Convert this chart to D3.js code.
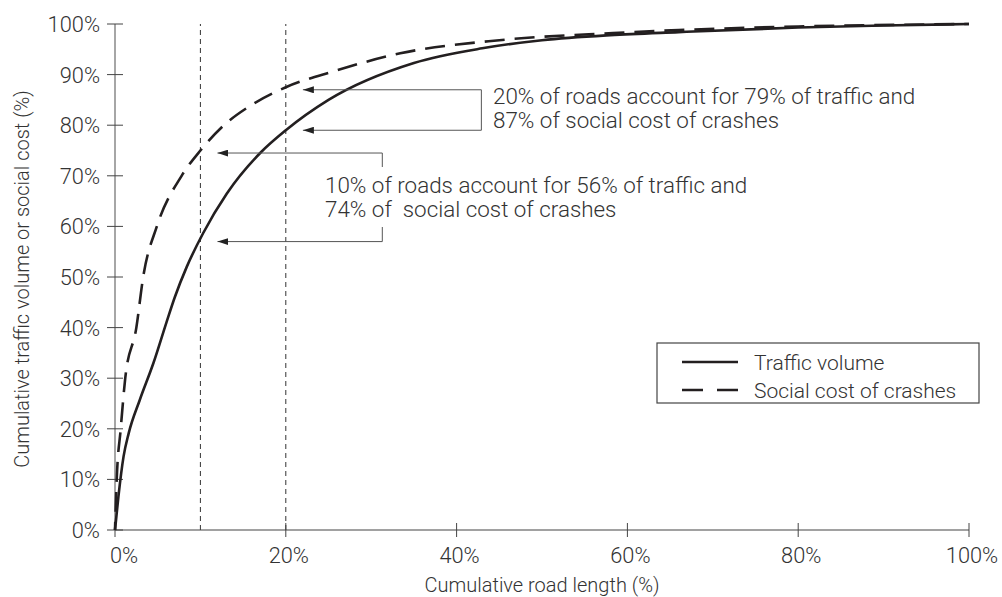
<!DOCTYPE html>
<html><head><meta charset="utf-8">
<script src="https://cdn.jsdelivr.net/npm/d3@7"></script>
<style>
body{margin:0;background:#fff;}
text{font-family:Roboto,"Open Sans",sans-serif;font-weight:300;fill:#333;}
</style></head>
<body><svg id="c" width="1002" height="597"></svg>
<script>
// ---- data ----
const trafficX = [0, 0.4, 1, 1.6, 2.9, 4.5, 6, 7, 8.4, 10.3, 13.1, 17, 20, 25, 35, 43, 50, 58, 66, 80, 90, 100];
const trafficY = [0, 6.6, 14.5, 19.1, 25.7, 33, 40.9, 46, 52, 58.6, 66.5, 74.5, 79, 85, 92.3, 95.2, 96.8, 97.8, 98.4, 99.3, 99.7, 100];
const crashX = [0, 0.2, 0.67, 1.2, 2.5, 3.3, 4.9, 7.8, 10, 12.5, 15.8, 20, 25.5, 33.4, 45, 58.3, 66, 80, 100];
const crashY = [0, 10, 20, 30, 40, 50, 60, 70, 75, 79.6, 83.8, 87.5, 90.6, 94.2, 96.8, 98.2, 98.8, 99.5, 100];
const xTicks = [0, 20, 40, 60, 80, 100];
const yTicks = [0, 10, 20, 30, 40, 50, 60, 70, 80, 90, 100];
const refLines = [10, 20];
const seriesNames = ["Traffic volume", "Social cost of crashes"];
const ann1Lines = ["20% of roads account for 79% of traffic and", "87% of social cost of crashes"];
const ann2Lines = ["10% of roads account for 56% of traffic and", "74% of  social cost of crashes"];

const svg = d3.select("#c");
const x = d3.scaleLinear().domain([0, 100]).range([115, 969]);
const y = d3.scaleLinear().domain([0, 100]).range([530, 24]);
const ink = "#231f20";

// reference dashed verticals
svg.selectAll(".ref").data(refLines).join("line")
  .attr("x1", d => x(d)).attr("x2", d => x(d))
  .attr("y1", y(0)).attr("y2", y(100))
  .attr("stroke", "#333").attr("stroke-width", 1).attr("stroke-dasharray", "5,4");

// axes
const yAxis = svg.append("g");
yAxis.append("line").attr("x1", x(0)).attr("x2", x(0)).attr("y1", y(0)).attr("y2", y(100))
  .attr("stroke", "#888").attr("stroke-width", 1.5);
yAxis.selectAll(".yt").data(yTicks).join("line")
  .attr("x1", x(0) - 8).attr("x2", x(0) + 8).attr("y1", d => y(d)).attr("y2", d => y(d))
  .attr("stroke", "#444").attr("stroke-width", 1);
yAxis.selectAll(".yl").data(yTicks).join("text")
  .attr("x", 100).attr("y", d => y(d) + 8).attr("text-anchor", "end")
  .attr("font-size", 21.8).text(d => d + "%");

const xAxis = svg.append("g");
xAxis.append("line").attr("x1", x(0)).attr("x2", x(100)).attr("y1", y(0)).attr("y2", y(0))
  .attr("stroke", "#444").attr("stroke-width", 1.2);
xAxis.selectAll(".xt").data(xTicks).join("line")
  .attr("x1", d => x(d)).attr("x2", d => x(d)).attr("y1", y(0) - 7).attr("y2", y(0) + 7)
  .attr("stroke", "#444").attr("stroke-width", 1);
xAxis.selectAll(".xl").data(xTicks).join("text")
  .attr("x", d => d === 0 ? x(d) - 5 : x(d) + 3).attr("y", 563)
  .attr("text-anchor", d => d === 0 ? "start" : "middle")
  .attr("font-size", 21.8).text(d => d + "%");

svg.append("text").attr("x", 542).attr("y", 592).attr("text-anchor", "middle")
  .attr("font-size", 20).text("Cumulative road length (%)");
svg.append("text").attr("transform", "translate(29,279) rotate(-90)").attr("text-anchor", "middle")
  .attr("font-size", 20).text("Cumulative traffic volume or social cost (%)");

// curves
const line = d3.line().x(d => x(d[0])).y(d => y(d[1])).curve(d3.curveMonotoneX);
svg.append("path").datum(trafficX.map((v, i) => [v, trafficY[i]]))
  .attr("d", line).attr("fill", "none").attr("stroke", ink).attr("stroke-width", 2.6);
svg.append("path").datum(crashX.map((v, i) => [v, crashY[i]]))
  .attr("d", line).attr("fill", "none").attr("stroke", ink).attr("stroke-width", 2.6)
  .attr("stroke-dasharray", "20,10").attr("stroke-dashoffset", 12);

// arrows
const defs = svg.append("defs");
defs.append("marker").attr("id", "ah").attr("viewBox", "0 0 11 7").attr("refX", 11).attr("refY", 3.5)
  .attr("markerWidth", 11).attr("markerHeight", 7).attr("markerUnits", "userSpaceOnUse").attr("orient", "auto")
  .append("path").attr("d", "M0,0 L11,3.5 L0,7 Z").attr("fill", "#222");

function bracket(tipX, yTop, yBot, bx, gapTop, gapBot) {
  const g = svg.append("g").attr("stroke", "#555").attr("stroke-width", 1).attr("fill", "none");
  g.append("line").attr("x1", x(bx)).attr("x2", x(tipX)).attr("y1", y(yTop)).attr("y2", y(yTop)).attr("marker-end", "url(#ah)");
  g.append("line").attr("x1", x(bx)).attr("x2", x(tipX)).attr("y1", y(yBot)).attr("y2", y(yBot)).attr("marker-end", "url(#ah)");
  if (gapTop == null) {
    g.append("line").attr("x1", x(bx)).attr("x2", x(bx)).attr("y1", y(yTop)).attr("y2", y(yBot));
  } else {
    g.append("line").attr("x1", x(bx)).attr("x2", x(bx)).attr("y1", y(yTop)).attr("y2", gapTop);
    g.append("line").attr("x1", x(bx)).attr("x2", x(bx)).attr("y1", gapBot).attr("y2", y(yBot));
  }
}
bracket(22, 87, 79, 42.9);
bracket(12, 74.5, 57, 31.3, 167, 227);

function annText(lines, tx, baselines) {
  const t = svg.append("text").attr("font-size", 22.4).attr("xml:space", "preserve").style("white-space", "pre");
  lines.forEach((s, i) => t.append("tspan").attr("x", tx).attr("y", baselines[i]).text(s));
}
annText(ann1Lines, 493, [104, 128]);
annText(ann2Lines, 325, [193, 217]);

// legend
const lg = svg.append("g");
lg.append("rect").attr("x", 657).attr("y", 343).attr("width", 322).attr("height", 60)
  .attr("fill", "#fff").attr("stroke", "#444").attr("stroke-width", 1.2);
seriesNames.forEach((n, i) => {
  const yy = 362 + i * 28;
  lg.append("line").attr("x1", 682).attr("x2", 738).attr("y1", yy).attr("y2", yy)
    .attr("stroke", ink).attr("stroke-width", 2.6).attr("stroke-dasharray", i ? "21,14" : null);
  lg.append("text").attr("x", 754).attr("y", yy + 8).attr("font-size", 21).text(n);
});
</script></body></html>
